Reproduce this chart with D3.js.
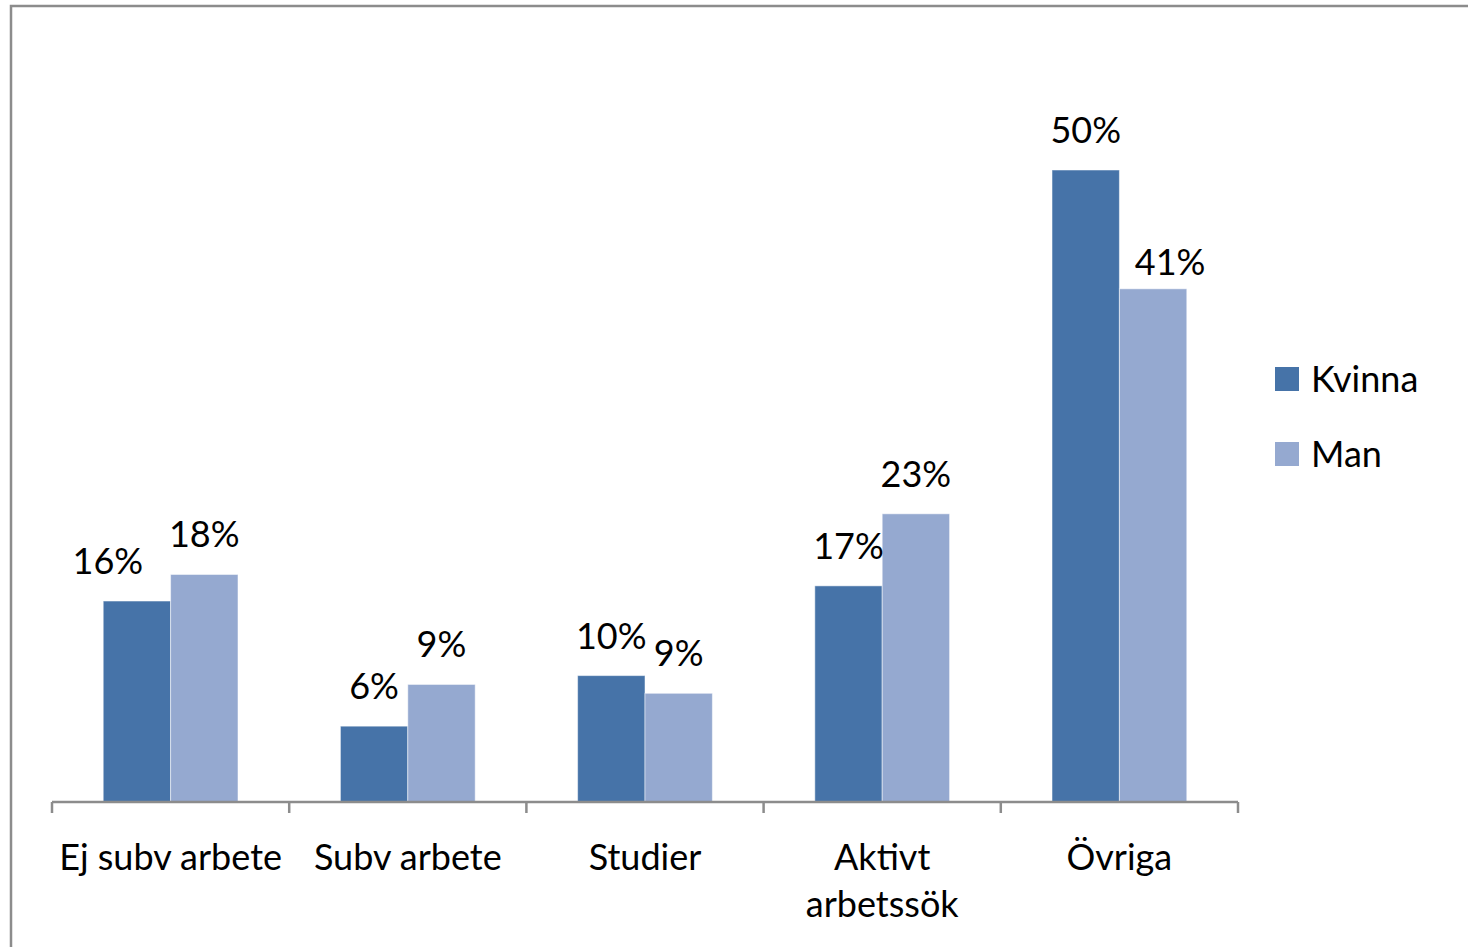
<!DOCTYPE html>
<html>
<head>
<meta charset="utf-8">
<script src="https://cdn.jsdelivr.net/npm/d3@7"></script>
<style>
  body { margin: 0; background: #fff; }
  text { font-family: Lato, "Open Sans", sans-serif; fill: #000; }
</style>
</head>
<body>
<div id="chart"></div>
<script>
// categories and series
var categories = ["Ej subv arbete", "Subv arbete", "Studier", "Aktivt arbetssök", "Övriga"];
var categoryLines = [["Ej subv arbete"], ["Subv arbete"], ["Studier"], ["Aktivt", "arbetssök"], ["Övriga"]];
var series = ["Kvinna", "Man"];
var kvinna = [15.9, 6.0, 10.0, 17.1, 50.0];
var man = [18.0, 9.3, 8.6, 22.8, 40.6];

// label nudges (moved by hand in the original)
var labelNudge = { "Ej subv arbete|Kvinna": [-29, 0], "Övriga|Man": [17, 13] };

var colors = { Kvinna: "#4673a8", Man: "#95a9d0" };

var width = 1468, height = 947;
var svg = d3.select("#chart").append("svg")
    .attr("width", width)
    .attr("height", height);

// frame
svg.append("rect")
    .attr("x", 11).attr("y", 6)
    .attr("width", width + 20).attr("height", height + 20)
    .attr("fill", "none")
    .attr("stroke", "#8c8c8c")
    .attr("stroke-width", 2.5);

var data = categories.map(function(c, i) {
    return { cat: c, lines: categoryLines[i], values: [
        { key: "Kvinna", value: kvinna[i] },
        { key: "Man", value: man[i] }
    ]};
});

var x0 = d3.scaleBand().domain(categories).range([52, 1238]).padding(0);
var x1 = d3.scaleBand().domain(series).range([0, x0.bandwidth()]).paddingInner(0).paddingOuter(0.76);
var y = d3.scaleLinear().domain([0, 60]).range([802, 43.6]);

var groups = svg.selectAll(".group")
    .data(data)
    .enter().append("g")
    .attr("class", "group")
    .attr("transform", function(d) { return "translate(" + x0(d.cat) + ",0)"; });

groups.selectAll("rect")
    .data(function(d) { return d.values; })
    .enter().append("rect")
    .attr("x", function(d) { return x1(d.key); })
    .attr("y", function(d) { return y(d.value); })
    .attr("width", x1.bandwidth())
    .attr("height", function(d) { return y(0) - y(d.value); })
    .attr("fill", function(d) { return colors[d.key]; })
    .attr("stroke", "rgba(255,255,255,0.5)")
    .attr("stroke-width", 1);

var fmt = function(v) { return Math.round(v) + "%"; };

groups.selectAll(".val")
    .data(function(d) { return d.values.map(function(v) { return { cat: d.cat, key: v.key, value: v.value }; }); })
    .enter().append("text")
    .attr("class", "val")
    .attr("text-anchor", "middle")
    .attr("font-size", 36)
    .attr("x", function(d) {
        var n = labelNudge[d.cat + "|" + d.key] || [0, 0];
        return x1(d.key) + x1.bandwidth() / 2 + n[0];
    })
    .attr("y", function(d) {
        var n = labelNudge[d.cat + "|" + d.key] || [0, 0];
        return y(d.value) - 27 + n[1];
    })
    .text(function(d) { return fmt(d.value); });

// x axis
var xAxis = d3.axisBottom(x0).tickSize(0).tickFormat("");
var axisG = svg.append("g")
    .attr("transform", "translate(0,802)")
    .call(xAxis);
axisG.select(".domain").remove();

axisG.append("line")
    .attr("x1", 52).attr("x2", 1238)
    .attr("y1", 0).attr("y2", 0)
    .attr("stroke", "#8c8c8c").attr("stroke-width", 2.5);

var bounds = categories.map(function(c) { return x0(c); }).concat([x0.range()[1]]);
axisG.selectAll(".tk")
    .data(bounds)
    .enter().append("line")
    .attr("x1", function(d) { return d; }).attr("x2", function(d) { return d; })
    .attr("y1", 0).attr("y2", 11)
    .attr("stroke", "#8c8c8c").attr("stroke-width", 2.5);

var catLabels = svg.selectAll(".cat")
    .data(data)
    .enter().append("text")
    .attr("class", "cat")
    .attr("text-anchor", "middle")
    .attr("font-size", 36)
    .attr("x", function(d) { return x0(d.cat) + x0.bandwidth() / 2; })
    .attr("y", 870);

catLabels.selectAll("tspan")
    .data(function(d) { return d.lines; })
    .enter().append("tspan")
    .attr("x", function() { var p = d3.select(this.parentNode).datum(); return x0(p.cat) + x0.bandwidth() / 2; })
    .attr("dy", function(d, i) { return i === 0 ? 0 : 47; })
    .text(function(d) { return d; });

// legend
var legend = svg.selectAll(".legend")
    .data(series)
    .enter().append("g")
    .attr("class", "legend")
    .attr("transform", function(d, i) { return "translate(1275," + (367 + i * 75) + ")"; });

legend.append("rect")
    .attr("width", 24).attr("height", 24)
    .attr("fill", function(d) { return colors[d]; });

legend.append("text")
    .attr("x", 36).attr("y", 25)
    .attr("font-size", 36)
    .text(function(d) { return d; });
</script>
</body>
</html>
